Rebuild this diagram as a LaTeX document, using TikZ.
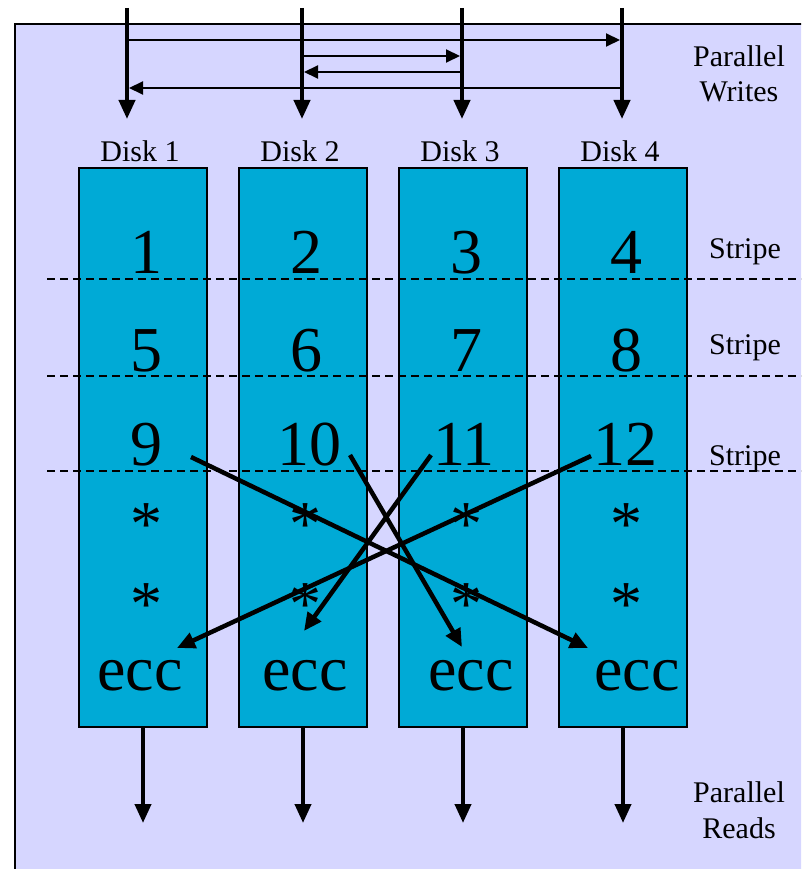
\documentclass[tikz,border=0pt]{standalone}
\usepackage{fontspec}
\setmainfont{Liberation Serif}
\usetikzlibrary{arrows.meta}
\definecolor{bg}{RGB}{214,214,255}
\definecolor{disk}{RGB}{0,170,214}
\begin{document}
\begin{tikzpicture}[x=1pt,y=-1pt,
  diskbox/.style={draw=black, line width=1.5pt, fill=disk, minimum width=128pt, minimum height=559pt, inner sep=0pt, outer sep=0pt, anchor=north west},
  lbl/.style={font=\fontsize{30}{30}\selectfont, inner sep=0pt, anchor=base},
  big/.style={font=\fontsize{64}{64}\selectfont, inner sep=0pt, anchor=base},
  fatarrow/.style={line width=4pt, -{Triangle[length=19pt,width=16pt]}},
  thinarrow/.style={line width=2pt, -{Triangle[length=14pt,width=13pt]}},
  crossarrow/.style={line width=4.5pt, -{Triangle[length=18pt,width=16pt]}},
  stripeline/.style={line width=1.5pt, dash pattern=on 8pt off 5pt}]
\useasboundingbox (0,0) rectangle (801,869);
\clip (0,0) rectangle (801,869);
% background
\fill[bg] (15,24) rectangle (830,900);
\draw[line width=1.5pt] (15,900) -- (15,24) -- (830,24);
% disks
\node[diskbox] (d1) at (79,168) {};
\node[diskbox] (d2) at (239,168) {};
\node[diskbox] (d3) at (399,168) {};
\node[diskbox] (d4) at (559,168) {};
% disk labels
\node[lbl] (l1) at (140,162) {Disk 1};
\node[lbl] (l2) at (300,162) {Disk 2};
\node[lbl] (l3) at (460,162) {Disk 3};
\node[lbl] (l4) at (620,162) {Disk 4};
% stripe lines
\coordinate (s1a) at (47,279); \coordinate (s1b) at (801,279);
\coordinate (s2a) at (47,376); \coordinate (s2b) at (801,376);
\coordinate (s3a) at (47,471); \coordinate (s3b) at (801,471);
\draw[stripeline] (s1a) -- (s1b);
\draw[stripeline] (s2a) -- (s2b);
\draw[stripeline] (s3a) -- (s3b);
\node[lbl] (st1) at (745,258) {Stripe};
\node[lbl] (st2) at (745,354) {Stripe};
\node[lbl] (st3) at (745,465) {Stripe};
% numbers
\node[big] (n1) at (146,273) {1};
\node[big] (n2) at (306,273) {2};
\node[big] (n3) at (466,273) {3};
\node[big] (n4) at (626,273) {4};
\node[big] (n5) at (146,371) {5};
\node[big] (n6) at (306,371) {6};
\node[big] (n7) at (466,371) {7};
\node[big] (n8) at (626,371) {8};
\node[big] (n9) at (146,465) {9};
\node[big] (n10) at (309,465) {10};
\node[big] (n11) at (464,465) {11};
\node[big] (n12) at (625,465) {12};
% asterisks
\node[big] (a1) at (146,545) {*};
\node[big] (a2) at (305,545) {*};
\node[big] (a3) at (466,545) {*};
\node[big] (a4) at (626,545) {*};
\node[big] (b1) at (146,625) {*};
\node[big] (b2) at (305,625) {*};
\node[big] (b3) at (466,625) {*};
\node[big] (b4) at (626,625) {*};
% ecc
\node[big] (e1) at (140,690) {ecc};
\node[big] (e2) at (305,690) {ecc};
\node[big] (e3) at (471,690) {ecc};
\node[big] (e4) at (637,690) {ecc};
% top write arrows
\coordinate (w1s) at (127,8); \coordinate (w1e) at (127,119);
\coordinate (w2s) at (302,8); \coordinate (w2e) at (302,119);
\coordinate (w3s) at (462,8); \coordinate (w3e) at (462,119);
\coordinate (w4s) at (622,8); \coordinate (w4e) at (622,119);
\draw[fatarrow] (w1s) -- (w1e);
\draw[fatarrow] (w2s) -- (w2e);
\draw[fatarrow] (w3s) -- (w3e);
\draw[fatarrow] (w4s) -- (w4e);
% horizontal arrows
\coordinate (h1a) at (129,40); \coordinate (h1b) at (620,40);
\coordinate (h2a) at (304,56); \coordinate (h2b) at (460,56);
\coordinate (h3a) at (460,72); \coordinate (h3b) at (304,72);
\coordinate (h4a) at (620,88); \coordinate (h4b) at (129,88);
\draw[thinarrow] (h1a) -- (h1b);
\draw[thinarrow] (h2a) -- (h2b);
\draw[thinarrow] (h3a) -- (h3b);
\draw[thinarrow] (h4a) -- (h4b);
\node[lbl] (pw1) at (739,67) {Parallel};
\node[lbl] (pw2) at (739,102) {Writes};
% crossing arrows
\coordinate (c9) at (191,457); \coordinate (c9e) at (588,648);
\coordinate (c10) at (350,455); \coordinate (c10e) at (462,647);
\coordinate (c11) at (431,455); \coordinate (c11e) at (304,631);
\coordinate (c12) at (591,456); \coordinate (c12e) at (177,648);
\draw[crossarrow] (c9) -- (c9e);
\draw[crossarrow] (c10) -- (c10e);
\draw[crossarrow] (c11) -- (c11e);
\draw[crossarrow] (c12) -- (c12e);
% bottom read arrows
\coordinate (r1) at (143,823);
\coordinate (r2) at (303,823);
\coordinate (r3) at (463,823);
\coordinate (r4) at (623,823);
\draw[fatarrow] (d1.south) -- (r1);
\draw[fatarrow] (d2.south) -- (r2);
\draw[fatarrow] (d3.south) -- (r3);
\draw[fatarrow] (d4.south) -- (r4);
\node[lbl] (pr1) at (739,802) {Parallel};
\node[lbl] (pr2) at (739,838) {Reads};
\end{tikzpicture}
\end{document}
